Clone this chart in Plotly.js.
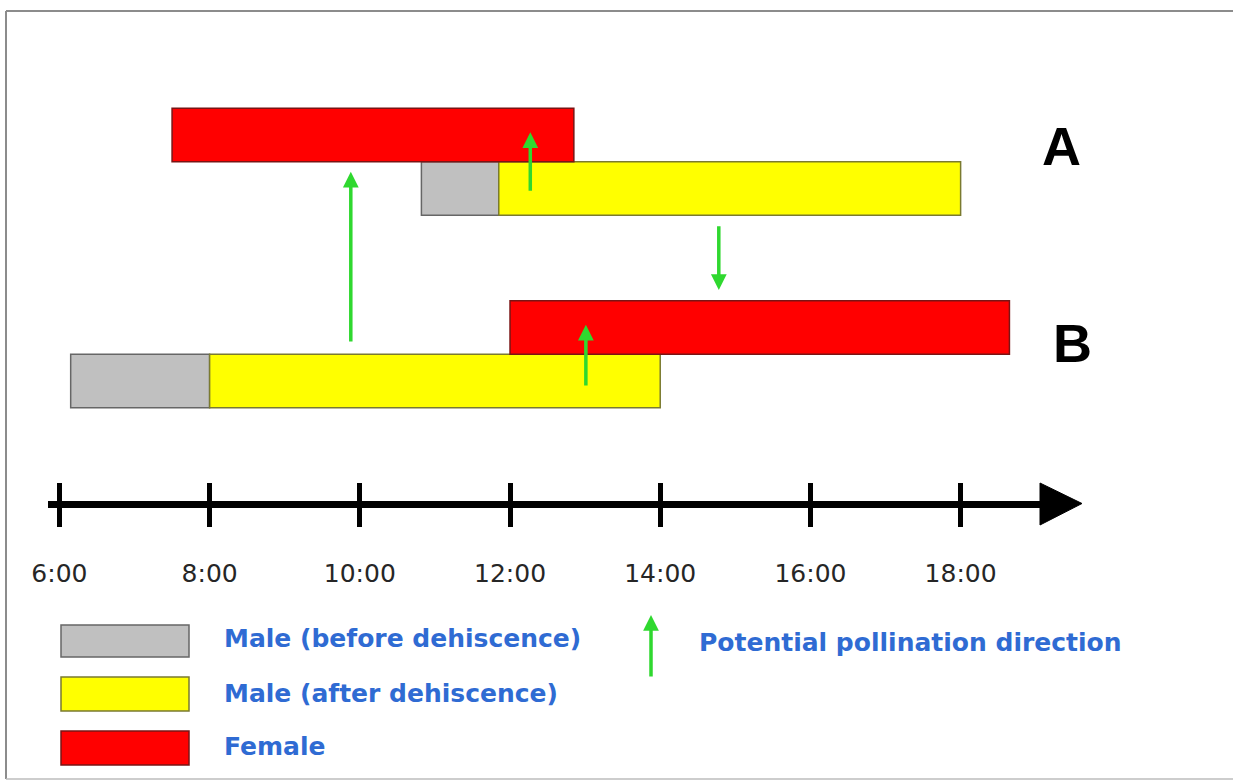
<!DOCTYPE html>
<html>
<head>
<meta charset="utf-8">
<script src="https://cdn.plot.ly/plotly-3.0.1.min.js"></script>
<style>
  html, body { margin: 0; padding: 0; background: #ffffff; }
  #chart { width: 1233px; height: 780px; }
</style>
</head>
<body>
<div id="chart"></div>
<script>
// ---------------- data ----------------
const tickHours = [6, 8, 10, 12, 14, 16, 18];
const tickLabels = ['6:00', '8:00', '10:00', '12:00', '14:00', '16:00', '18:00'];

const plants = ['A', 'B'];
const maleBeforeStart = [10.82, 6.15];   // grey
const maleBeforeEnd   = [11.85, 8.0];    // = start of yellow
const maleAfterEnd    = [18.0, 14.0];    // yellow end
const femaleStart     = [7.5, 12.0];     // red
const femaleEnd       = [12.85, 18.65];

// pollination arrows (time, tail row-level, tip row-level)
const arrowTime  = [9.88, 12.27, 14.78, 13.01];
const arrowTailY = [0.71, 3.53, 2.92, -0.11];
const arrowTipY  = [3.91, 4.65, 1.70, 1.05];

const legendLabels = ['Male (before dehiscence)', 'Male (after dehiscence)', 'Female'];
const arrowLegendLabel = 'Potential pollination direction';

// ---------------- layout constants ----------------
const W = 1233, H = 780;
const rowY = { A: { female: 4.6, male: 3.6 }, B: { female: 1.0, male: 0.0 } };
const colors = {
  before: { fill: '#c0c0c0', line: '#666666' },
  after:  { fill: '#ffff00', line: '#7a7a30' },
  female: { fill: '#ff0000', line: '#7a1414' }
};
const green = '#2fd82f';
const blue = '#2f6bd3';
const px = v => v / W;           // x pixel -> paper
const py = v => 1 - v / H;       // y pixel -> paper

const maleY = plants.map(p => rowY[p].male);
const femY = plants.map(p => rowY[p].female);

const traces = [
  {
    type: 'bar', orientation: 'h', name: legendLabels[0],
    y: maleY, base: maleBeforeStart,
    x: maleBeforeStart.map((s, i) => maleBeforeEnd[i] - s),
    width: 1, marker: { color: colors.before.fill, line: { color: colors.before.line, width: 1.5 } },
    hoverinfo: 'skip', showlegend: false
  },
  {
    type: 'bar', orientation: 'h', name: legendLabels[1],
    y: maleY, base: maleBeforeEnd,
    x: maleBeforeEnd.map((s, i) => maleAfterEnd[i] - s),
    width: 1, marker: { color: colors.after.fill, line: { color: colors.after.line, width: 1.5 } },
    hoverinfo: 'skip', showlegend: false
  },
  {
    type: 'bar', orientation: 'h', name: legendLabels[2],
    y: femY, base: femaleStart,
    x: femaleStart.map((s, i) => femaleEnd[i] - s),
    width: 1, marker: { color: colors.female.fill, line: { color: colors.female.line, width: 1.5 } },
    hoverinfo: 'skip', showlegend: false
  },
  { // carrier trace for the overlay axis (upward ticks)
    type: 'scatter', mode: 'none', x: [], y: [], xaxis: 'x2', yaxis: 'y',
    hoverinfo: 'skip', showlegend: false
  }
];

const axisLinePy = py(503.5);
const annotations = [];

arrowTime.forEach((t, i) => {
  annotations.push({
    x: t, y: arrowTipY[i], ax: t, ay: arrowTailY[i],
    xref: 'x', yref: 'y', axref: 'x', ayref: 'y',
    text: '', showarrow: true, arrowhead: 2, arrowsize: 0.9, arrowwidth: 3.5,
    arrowcolor: green, standoff: 0, startstandoff: 0
  });
});

// plant labels
annotations.push({ x: px(1061.5), y: py(146), xref: 'paper', yref: 'paper', text: '<b>A</b>',
  showarrow: false, xanchor: 'center', yanchor: 'middle',
  font: { family: 'Liberation Sans, Arial, sans-serif', size: 54, color: '#000000' } });
annotations.push({ x: px(1072.5), y: py(343), xref: 'paper', yref: 'paper', text: '<b>B</b>',
  showarrow: false, xanchor: 'center', yanchor: 'middle',
  font: { family: 'Liberation Sans, Arial, sans-serif', size: 54, color: '#000000' } });

// legend
const legendBoxes = [[625, 657], [677, 711], [731, 765]];
const legendTextY = [638, 693, 746];
const legendFill = [colors.before, colors.after, colors.female];
const shapes = [];
legendLabels.forEach((lab, i) => {
  shapes.push({
    type: 'rect', xref: 'paper', yref: 'paper',
    x0: px(61), x1: px(189), y0: py(legendBoxes[i][1]), y1: py(legendBoxes[i][0]),
    fillcolor: legendFill[i].fill, line: { color: legendFill[i].line, width: 1.5 }
  });
  annotations.push({
    x: px(222), y: py(legendTextY[i]), xref: 'paper', yref: 'paper', text: '<b>' + lab + '</b>',
    showarrow: false, xanchor: 'left', yanchor: 'middle',
    font: { family: 'DejaVu Sans, sans-serif', size: 25, color: blue }
  });
});
annotations.push({
  x: px(651), y: py(615), ax: px(651), ay: py(678), xref: 'paper', yref: 'paper',
  axref: 'paper', ayref: 'paper', text: '', showarrow: true, arrowhead: 2, arrowsize: 0.9,
  arrowwidth: 3.5, arrowcolor: green, standoff: 0
});
annotations.push({
  x: px(697), y: py(642), xref: 'paper', yref: 'paper', text: '<b>' + arrowLegendLabel + '</b>',
  showarrow: false, xanchor: 'left', yanchor: 'middle',
  font: { family: 'DejaVu Sans, sans-serif', size: 25, color: blue }
});

// time axis arrowhead
shapes.push({
  type: 'path', xref: 'paper', yref: 'paper',
  path: `M ${px(1040)} ${py(483)} L ${px(1040)} ${py(525)} L ${px(1082)} ${py(503.5)} Z`,
  fillcolor: '#000000', line: { color: '#000000', width: 1 }
});
// frame: left, top, bottom edges only
const frameLine = { color: '#8c8c8c', width: 2 };
shapes.push({ type: 'line', xref: 'paper', yref: 'paper', x0: px(6), x1: px(6), y0: py(779), y1: py(11), line: frameLine, layer: 'below' });
shapes.push({ type: 'line', xref: 'paper', yref: 'paper', x0: px(6), x1: 1, y0: py(11), y1: py(11), line: frameLine, layer: 'below' });
shapes.push({ type: 'line', xref: 'paper', yref: 'paper', x0: px(6), x1: 1, y0: py(779), y1: py(779), line: { color: '#bdbdbd', width: 1.5 }, layer: 'below' });

const xDomain = [px(48), px(1040)];
const xRange = [5.848, 19.057];

const layout = {
  width: W, height: H,
  margin: { l: 0, r: 0, t: 0, b: 0, pad: 0 },
  paper_bgcolor: '#ffffff', plot_bgcolor: 'rgba(0,0,0,0)',
  barmode: 'overlay', showlegend: false,
  xaxis: {
    domain: xDomain, range: xRange, anchor: 'free', position: axisLinePy,
    showline: true, linecolor: '#000000', linewidth: 7,
    showgrid: false, zeroline: false,
    tickmode: 'array', tickvals: tickHours, ticktext: tickLabels,
    ticks: 'outside', ticklen: 19, tickwidth: 5, tickcolor: '#000000',
    ticklabelstandoff: 25,
    tickfont: { family: 'DejaVu Sans, sans-serif', size: 25, color: '#262626' },
    fixedrange: true
  },
  xaxis2: {
    overlaying: 'x', matches: 'x', domain: xDomain, range: xRange, anchor: 'free', position: axisLinePy,
    showline: false, showgrid: false, zeroline: false,
    tickmode: 'array', tickvals: tickHours, showticklabels: false,
    ticks: 'inside', ticklen: 21, tickwidth: 5, tickcolor: '#000000', fixedrange: true
  },
  yaxis: {
    domain: [0, 1], range: [-7.458, 7.1215], visible: false, fixedrange: true
  },
  shapes: shapes,
  annotations: annotations
};

Plotly.newPlot('chart', traces, layout, { staticPlot: true, displayModeBar: false });
</script>
</body>
</html>
